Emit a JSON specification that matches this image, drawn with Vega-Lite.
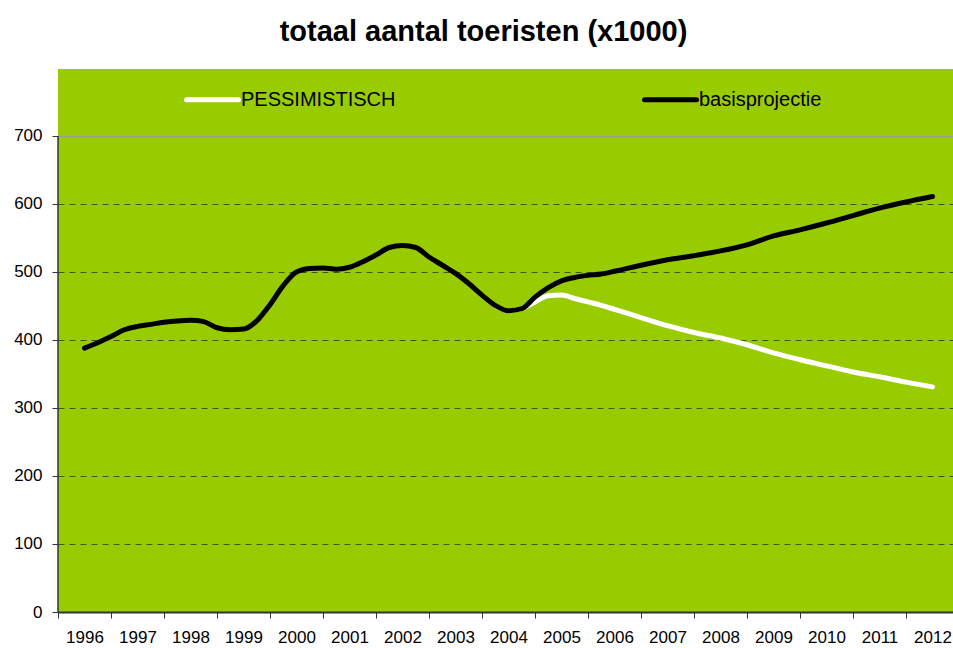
{
  "$schema": "https://vega.github.io/schema/vega-lite/v6.json",
  "autosize": {"type": "none"},
  "padding": {"left": 58, "top": 69, "right": 0, "bottom": 36},
  "width": 901,
  "height": 543,
  "background": "white",
  "config": {
    "view": {"fill": "#99CC00", "stroke": null},
    "font": "Liberation Sans"
  },
  "title": {
    "text": "totaal aantal toeristen (x1000)",
    "font": "Liberation Sans",
    "fontSize": 29,
    "fontWeight": "bold",
    "color": "black",
    "anchor": "middle",
    "dx": -25,
    "offset": 22
  },
  "datasets": {
    "series": [
      {"t": 1996.0, "v": 388, "s": "basisprojectie"},
      {"t": 1996.25, "v": 396, "s": "basisprojectie"},
      {"t": 1996.5, "v": 405, "s": "basisprojectie"},
      {"t": 1996.75, "v": 415, "s": "basisprojectie"},
      {"t": 1997.0, "v": 420, "s": "basisprojectie"},
      {"t": 1997.25, "v": 423, "s": "basisprojectie"},
      {"t": 1997.5, "v": 426, "s": "basisprojectie"},
      {"t": 1997.75, "v": 428, "s": "basisprojectie"},
      {"t": 1998.0, "v": 429, "s": "basisprojectie"},
      {"t": 1998.25, "v": 427, "s": "basisprojectie"},
      {"t": 1998.5, "v": 418, "s": "basisprojectie"},
      {"t": 1998.75, "v": 415, "s": "basisprojectie"},
      {"t": 1999.0, "v": 416, "s": "basisprojectie"},
      {"t": 1999.25, "v": 428, "s": "basisprojectie"},
      {"t": 1999.5, "v": 452, "s": "basisprojectie"},
      {"t": 1999.75, "v": 480, "s": "basisprojectie"},
      {"t": 2000.0, "v": 500, "s": "basisprojectie"},
      {"t": 2000.25, "v": 505, "s": "basisprojectie"},
      {"t": 2000.5, "v": 506, "s": "basisprojectie"},
      {"t": 2000.75, "v": 504, "s": "basisprojectie"},
      {"t": 2001.0, "v": 507, "s": "basisprojectie"},
      {"t": 2001.25, "v": 515, "s": "basisprojectie"},
      {"t": 2001.5, "v": 525, "s": "basisprojectie"},
      {"t": 2001.75, "v": 536, "s": "basisprojectie"},
      {"t": 2002.0, "v": 539, "s": "basisprojectie"},
      {"t": 2002.25, "v": 536, "s": "basisprojectie"},
      {"t": 2002.5, "v": 522, "s": "basisprojectie"},
      {"t": 2002.75, "v": 510, "s": "basisprojectie"},
      {"t": 2003.0, "v": 498, "s": "basisprojectie"},
      {"t": 2003.25, "v": 483, "s": "basisprojectie"},
      {"t": 2003.5, "v": 466, "s": "basisprojectie"},
      {"t": 2003.75, "v": 451, "s": "basisprojectie"},
      {"t": 2004.0, "v": 443, "s": "basisprojectie"},
      {"t": 2004.25, "v": 446, "s": "basisprojectie"},
      {"t": 2004.5, "v": 463, "s": "basisprojectie"},
      {"t": 2004.75, "v": 477, "s": "basisprojectie"},
      {"t": 2005.0, "v": 487, "s": "basisprojectie"},
      {"t": 2005.25, "v": 492, "s": "basisprojectie"},
      {"t": 2005.5, "v": 495, "s": "basisprojectie"},
      {"t": 2005.75, "v": 497, "s": "basisprojectie"},
      {"t": 2006.0, "v": 501, "s": "basisprojectie"},
      {"t": 2006.5, "v": 510, "s": "basisprojectie"},
      {"t": 2007.0, "v": 518, "s": "basisprojectie"},
      {"t": 2007.5, "v": 524, "s": "basisprojectie"},
      {"t": 2008.0, "v": 531, "s": "basisprojectie"},
      {"t": 2008.5, "v": 540, "s": "basisprojectie"},
      {"t": 2009.0, "v": 553, "s": "basisprojectie"},
      {"t": 2009.5, "v": 562, "s": "basisprojectie"},
      {"t": 2010.0, "v": 572, "s": "basisprojectie"},
      {"t": 2010.5, "v": 583, "s": "basisprojectie"},
      {"t": 2011.0, "v": 594, "s": "basisprojectie"},
      {"t": 2011.5, "v": 603, "s": "basisprojectie"},
      {"t": 2012.0, "v": 611, "s": "basisprojectie"},
      {"t": 2003.75, "v": 451, "s": "PESSIMISTISCH"},
      {"t": 2004.0, "v": 443, "s": "PESSIMISTISCH"},
      {"t": 2004.25, "v": 446, "s": "PESSIMISTISCH"},
      {"t": 2004.5, "v": 456, "s": "PESSIMISTISCH"},
      {"t": 2004.75, "v": 465, "s": "PESSIMISTISCH"},
      {"t": 2005.0, "v": 466, "s": "PESSIMISTISCH"},
      {"t": 2005.25, "v": 461, "s": "PESSIMISTISCH"},
      {"t": 2005.5, "v": 456, "s": "PESSIMISTISCH"},
      {"t": 2005.75, "v": 451, "s": "PESSIMISTISCH"},
      {"t": 2006.0, "v": 445, "s": "PESSIMISTISCH"},
      {"t": 2006.5, "v": 433, "s": "PESSIMISTISCH"},
      {"t": 2007.0, "v": 421, "s": "PESSIMISTISCH"},
      {"t": 2007.5, "v": 411, "s": "PESSIMISTISCH"},
      {"t": 2008.0, "v": 403, "s": "PESSIMISTISCH"},
      {"t": 2008.5, "v": 393, "s": "PESSIMISTISCH"},
      {"t": 2009.0, "v": 381, "s": "PESSIMISTISCH"},
      {"t": 2009.5, "v": 371, "s": "PESSIMISTISCH"},
      {"t": 2010.0, "v": 362, "s": "PESSIMISTISCH"},
      {"t": 2010.5, "v": 353, "s": "PESSIMISTISCH"},
      {"t": 2011.0, "v": 346, "s": "PESSIMISTISCH"},
      {"t": 2011.5, "v": 338, "s": "PESSIMISTISCH"},
      {"t": 2012.0, "v": 331, "s": "PESSIMISTISCH"}
    ],
    "frame": [
      {"x": 1995.5, "y0": 0, "y1": 700}
    ]
  },
  "layer": [
    {
      "data": {"name": "frame"},
      "mark": {"type": "rule", "color": "#333333", "strokeWidth": 1.5},
      "encoding": {
        "x": {"field": "x", "type": "quantitative", "scale": {"domain": [1995.5, 2012.5], "nice": false, "zero": false},
          "axis": {
            "title": null,
            "values": [1995.5, 1996.5, 1997.5, 1998.5, 1999.5, 2000.5, 2001.5, 2002.5, 2003.5, 2004.5, 2005.5, 2006.5, 2007.5, 2008.5, 2009.5, 2010.5, 2011.5],
            "labelExpr": "format(datum.value + 0.5, 'd')",
            "labelOffset": 26.5,
            "labelFlush": false,
            "labelOverlap": false,
            "labelBound": false,
            "labelFont": "Liberation Sans",
            "labelFontSize": 17,
            "labelColor": "black",
            "labelPadding": 11,
            "tickSize": 6,
            "tickColor": "#333333",
            "domainColor": "#333333",
            "domainWidth": 2,
            "grid": false
          }},
        "y": {"field": "y0", "type": "quantitative", "scale": {"domain": [0, 798.5], "nice": false},
          "axis": {
            "title": null,
            "values": [0, 100, 200, 300, 400, 500, 600, 700],
            "labelFont": "Liberation Sans",
            "labelFontSize": 17,
            "labelColor": "black",
            "labelPadding": 10,
            "tickSize": 6,
            "tickColor": "#333333",
            "domain": false,
            "grid": true,
            "gridColor": {"condition": {"test": "datum.value === 700", "value": "#9a9a9a"}, "value": "#3f5500"},
            "gridDash": {"condition": {"test": "datum.value === 700", "value": []}, "value": [6, 5]},
            "gridWidth": {"condition": {"test": "datum.value === 700", "value": 1.5}, "value": 1}
          }},
        "y2": {"field": "y1"}
      }
    },
    {
      "data": {"name": "series"},
      "transform": [{"filter": "datum.s === 'PESSIMISTISCH'"}],
      "mark": {"type": "line", "strokeWidth": 5, "strokeCap": "round", "strokeJoin": "round", "interpolate": "monotone"},
      "encoding": {
        "x": {"field": "t", "type": "quantitative"},
        "y": {"field": "v", "type": "quantitative"},
        "color": {"field": "s", "type": "nominal",
          "scale": {"domain": ["PESSIMISTISCH", "basisprojectie"], "range": ["white", "black"]},
          "legend": {
            "title": null,
            "orient": "none",
            "legendX": 126,
            "legendY": 2,
            "direction": "horizontal",
            "symbolType": "stroke",
            "symbolSize": 2704,
            "symbolStrokeWidth": 5,
            "labelFont": "Liberation Sans",
            "labelFontSize": 20,
            "labelColor": "black",
            "labelOffset": 0,
            "columnPadding": 238,
            "encode": {"symbols": {"update": {"strokeCap": {"value": "round"}}}}
          }}
      }
    },
    {
      "data": {"name": "series"},
      "transform": [{"filter": "datum.s === 'basisprojectie'"}],
      "mark": {"type": "line", "strokeWidth": 5, "strokeCap": "round", "strokeJoin": "round", "interpolate": "monotone"},
      "encoding": {
        "x": {"field": "t", "type": "quantitative"},
        "y": {"field": "v", "type": "quantitative"},
        "color": {"field": "s", "type": "nominal"}
      }
    }
  ]
}
